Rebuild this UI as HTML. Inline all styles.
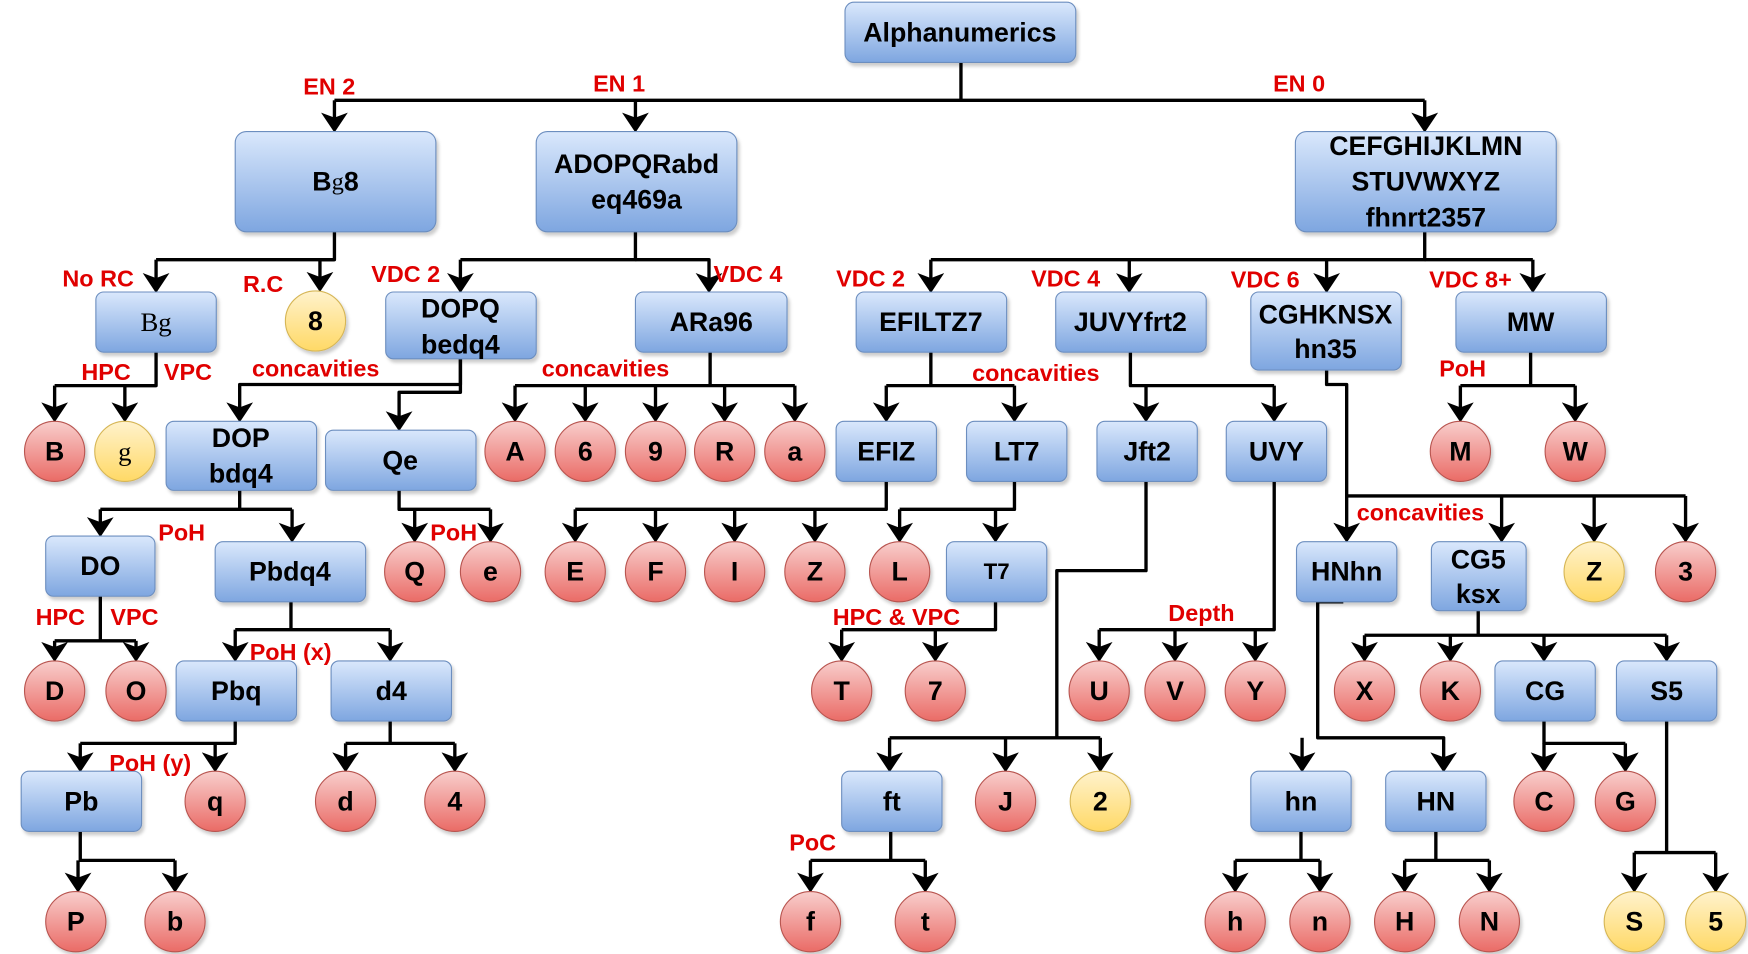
<!DOCTYPE html>
<html><head><meta charset="utf-8"><style>
html,body{margin:0;padding:0;background:#fff;}
svg{display:block;}
text{font-family:"Liberation Sans",Arial,sans-serif;font-weight:bold;}
.bt{font-size:24px;fill:#000;text-anchor:middle;dominant-baseline:central;}
.ct{font-size:24px;fill:#000;text-anchor:middle;dominant-baseline:central;}
.rl{font-size:21px;fill:#e00000;}
.e{fill:none;stroke:#000;stroke-width:3;stroke-linejoin:round;}
.a{fill:none;stroke:#000;stroke-width:3;stroke-linejoin:round;marker-end:url(#ar);}
</style></head><body>
<svg width="1748" height="954" viewBox="0 0 1568 856" preserveAspectRatio="none" xmlns="http://www.w3.org/2000/svg">
<defs>
<linearGradient id="gb" x1="0" y1="0" x2="0" y2="1"><stop offset="0" stop-color="#dae8fc"/><stop offset="1" stop-color="#7ea6e0"/></linearGradient>
<linearGradient id="gr" x1="0" y1="0" x2="0" y2="1"><stop offset="0" stop-color="#f8cecc"/><stop offset="1" stop-color="#ea6b66"/></linearGradient>
<linearGradient id="gy" x1="0" y1="0" x2="0" y2="1"><stop offset="0" stop-color="#fff2cc"/><stop offset="1" stop-color="#ffd966"/></linearGradient>
<marker id="ar" markerWidth="8" markerHeight="8" refX="5" refY="4" orient="auto" markerUnits="strokeWidth" viewBox="0 0 8 8">
<path d="M0,0 L6,4 L0,8 L1.5,4 Z" fill="#000"/></marker>
<filter id="sh" x="-10%" y="-10%" width="130%" height="130%"><feDropShadow dx="2" dy="3" stdDeviation="1.5" flood-color="#000" flood-opacity="0.2"/></filter>
</defs>

<!-- edges -->
<path class="e" d="M862 56 V90 H300"/><path class="e" d="M862 90 H1278"/>
<path class="a" d="M300 90 V116"/><path class="a" d="M570 90 V116"/><path class="a" d="M1278 90 V116"/>
<path class="e" d="M300 208 V233 H140"/><path class="a" d="M140 233 V260"/><path class="a" d="M300 233 H287 V259"/>
<path class="e" d="M570 208 V233 H413"/><path class="a" d="M413 233 V260"/><path class="a" d="M570 233 H636 V260"/>
<path class="e" d="M1278 208 V233 H835"/><path class="e" d="M1278 233 H1375"/>
<path class="a" d="M835 233 V260"/><path class="a" d="M1013 233 V260"/><path class="a" d="M1190 233 V260"/><path class="a" d="M1375 233 V260"/>
<path class="e" d="M140 316 V346 H49"/><path class="a" d="M49 346 V376"/><path class="a" d="M140 346 H112 V376"/>
<path class="a" d="M413 322 V345 H215 V376"/><path class="a" d="M413 322 V352 H358 V384"/>
<path class="e" d="M637 316 V346 H462 M637 346 H713"/>
<path class="a" d="M462 346 V376"/><path class="a" d="M525 346 V376"/><path class="a" d="M588 346 V376"/><path class="a" d="M650 346 V376"/><path class="a" d="M713 346 V376"/>
<path class="e" d="M835 316 V346 H795 M835 346 H910"/><path class="a" d="M795 346 V376"/><path class="a" d="M910 346 V376"/>
<path class="e" d="M1014 316 V346 H1143"/><path class="a" d="M1028 346 V376"/><path class="a" d="M1143 346 V376"/>
<path class="a" d="M1190 332 V345 H1208 V484"/><path class="e" d="M1208 445 H1512"/>
<path class="a" d="M1347 445 V484"/><path class="a" d="M1430 445 V484"/><path class="a" d="M1512 445 V484"/>
<path class="e" d="M1373 316 V346 H1310 M1373 346 H1413"/><path class="a" d="M1310 346 V376"/><path class="a" d="M1413 346 V376"/>
<path class="e" d="M215 440 V457 H90 M215 457 H262"/><path class="a" d="M90 457 V479"/><path class="a" d="M262 457 V484"/>
<path class="e" d="M358 440 V457 H440"/><path class="a" d="M372 457 V484"/><path class="a" d="M440 457 V484"/>
<path class="e" d="M795 432 V457 H516"/><path class="a" d="M516 457 V484"/><path class="a" d="M588 457 V484"/><path class="a" d="M659 457 V484"/><path class="a" d="M731 457 V484"/>
<path class="e" d="M910 432 V457 H807 M893 457 V457"/><path class="a" d="M807 457 V484"/><path class="a" d="M893 457 V484"/>
<path class="e" d="M1028 432 V512 H948 V662 H798 M948 662 H987"/>
<path class="a" d="M798 662 V690"/><path class="a" d="M902 662 V690"/><path class="a" d="M987 662 V690"/>
<path class="e" d="M1143 432 V565 H986"/><path class="a" d="M986 565 V591"/><path class="a" d="M1054 565 V591"/><path class="a" d="M1126 565 V591"/>
<path class="e" d="M90 535 V575 H49 M90 575 H122"/><path class="a" d="M49 575 V591"/><path class="a" d="M122 575 V591"/>
<path class="e" d="M261 540 V565 H211 M261 565 H350"/><path class="a" d="M211 565 V591"/><path class="a" d="M350 565 V591"/>
<path class="e" d="M893 540 V565 H755"/><path class="a" d="M755 565 V591"/><path class="a" d="M839 565 V591"/>
<path class="a" d="M1205 540 H1182 V662 H1295 V690"/><path class="a" d="M1168 662 V690"/>
<path class="e" d="M1326 548 V570 H1224 M1326 570 H1495"/><path class="a" d="M1224 570 V591"/><path class="a" d="M1301 570 V591"/><path class="a" d="M1385 570 V591"/><path class="a" d="M1495 570 V591"/>
<path class="e" d="M211 647 V667 H72 M211 667 H193"/><path class="a" d="M72 667 V690"/><path class="a" d="M193 667 V690"/>
<path class="e" d="M350 647 V667 H310 M350 667 H408"/><path class="a" d="M310 667 V690"/><path class="a" d="M408 667 V690"/>
<path class="e" d="M1385 647 V667 H1458"/><path class="a" d="M1385 667 V690"/><path class="a" d="M1458 667 V690"/>
<path class="e" d="M1495 647 V765 H1466 M1495 765 H1539"/><path class="a" d="M1466 765 V798"/><path class="a" d="M1539 765 V798"/>
<path class="e" d="M72 746 V772 H157"/><path class="a" d="M70 772 V798"/><path class="a" d="M157 772 V798"/>
<path class="e" d="M799 746 V772 H727 M799 772 H830"/><path class="a" d="M727 772 V798"/><path class="a" d="M830 772 V798"/>
<path class="e" d="M1167 746 V772 H1108 M1167 772 H1184"/><path class="a" d="M1108 772 V798"/><path class="a" d="M1184 772 V798"/>
<path class="e" d="M1288 746 V772 H1260 M1288 772 H1336"/><path class="a" d="M1260 772 V798"/><path class="a" d="M1336 772 V798"/>

<!-- boxes -->
<g fill="url(#gb)" stroke="#6c8ebf" stroke-width="1" filter="url(#sh)">
<rect x="758" y="2" width="207" height="54" rx="8"/>
<rect x="211" y="118" width="180" height="90" rx="10"/>
<rect x="481" y="118" width="180" height="90" rx="10"/>
<rect x="1162" y="118" width="234" height="90" rx="10"/>
<rect x="86" y="262" width="108" height="54" rx="7"/>
<rect x="346" y="262" width="135" height="60" rx="7"/>
<rect x="570" y="262" width="136" height="54" rx="7"/>
<rect x="768" y="262" width="135" height="54" rx="7"/>
<rect x="947" y="262" width="135" height="54" rx="7"/>
<rect x="1122" y="262" width="135" height="70" rx="7"/>
<rect x="1306" y="262" width="135" height="54" rx="7"/>
<rect x="149" y="378" width="135" height="62" rx="7"/>
<rect x="292" y="386" width="135" height="54" rx="7"/>
<rect x="750" y="378" width="90" height="54" rx="7"/>
<rect x="867" y="378" width="90" height="54" rx="7"/>
<rect x="984" y="378" width="90" height="54" rx="7"/>
<rect x="1100" y="378" width="90" height="54" rx="7"/>
<rect x="41" y="481" width="98" height="54" rx="7"/>
<rect x="193" y="486" width="135" height="54" rx="7"/>
<rect x="849" y="486" width="90" height="54" rx="7"/>
<rect x="1163" y="486" width="90" height="54" rx="7"/>
<rect x="1284" y="486" width="85" height="62" rx="7"/>
<rect x="158" y="593" width="108" height="54" rx="7"/>
<rect x="297" y="593" width="108" height="54" rx="7"/>
<rect x="1341" y="593" width="90" height="54" rx="7"/>
<rect x="1450" y="593" width="90" height="54" rx="7"/>
<rect x="19" y="692" width="108" height="54" rx="7"/>
<rect x="755" y="692" width="90" height="54" rx="7"/>
<rect x="1122" y="692" width="90" height="54" rx="7"/>
<rect x="1243" y="692" width="90" height="54" rx="7"/>
</g>
<g class="bt">
<text class="bt" x="861" y="29">Alphanumerics</text>
<text class="bt" x="301" y="163">B<tspan style="font-family:'Liberation Serif',serif;font-weight:normal;font-size:22px">g</tspan>8</text>
<text class="bt" x="571" y="147">ADOPQRabd</text><text class="bt" x="571" y="179">eq469a</text>
<text class="bt" x="1279" y="131">CEFGHIJKLMN</text><text class="bt" x="1279" y="163">STUVWXYZ</text><text class="bt" x="1279" y="195">fhnrt2357</text>
<text class="bt" x="140" y="289" style="font-family:'Liberation Serif',serif;font-weight:normal">Bg</text>
<text class="bt" x="413" y="277">DOPQ</text><text class="bt" x="413" y="309">bedq4</text>
<text class="bt" x="638" y="289">ARa96</text>
<text class="bt" x="835" y="289">EFILTZ7</text>
<text class="bt" x="1014" y="289">JUVYfrt2</text>
<text class="bt" x="1189" y="282">CGHKNSX</text><text class="bt" x="1189" y="313">hn35</text>
<text class="bt" x="1373" y="289">MW</text>
<text class="bt" x="216" y="393">DOP</text><text class="bt" x="216" y="425">bdq4</text>
<text class="bt" x="359" y="413">Qe</text>
<text class="bt" x="795" y="405">EFIZ</text>
<text class="bt" x="912" y="405">LT7</text>
<text class="bt" x="1029" y="405">Jft2</text>
<text class="bt" x="1145" y="405">UVY</text>
<text class="bt" x="90" y="508">DO</text>
<text class="bt" x="260" y="513">Pbdq4</text>
<text class="bt" x="894" y="513" style="font-size:20px">T7</text>
<text class="bt" x="1208" y="513">HNhn</text>
<text class="bt" x="1326" y="502">CG5</text><text class="bt" x="1326" y="533">ksx</text>
<text class="bt" x="212" y="620">Pbq</text>
<text class="bt" x="351" y="620">d4</text>
<text class="bt" x="1386" y="620">CG</text>
<text class="bt" x="1495" y="620">S5</text>
<text class="bt" x="73" y="719">Pb</text>
<text class="bt" x="800" y="719">ft</text>
<text class="bt" x="1167" y="719">hn</text>
<text class="bt" x="1288" y="719">HN</text>
</g>

<!-- circles -->
<g stroke="#b85450" stroke-width="1" fill="url(#gr)" filter="url(#sh)">
<circle cx="49" cy="405" r="27"/><circle cx="462" cy="405" r="27"/><circle cx="525" cy="405" r="27"/><circle cx="588" cy="405" r="27"/><circle cx="650" cy="405" r="27"/><circle cx="713" cy="405" r="27"/><circle cx="1310" cy="405" r="27"/><circle cx="1413" cy="405" r="27"/>
<circle cx="372" cy="513" r="27"/><circle cx="440" cy="513" r="27"/><circle cx="516" cy="513" r="27"/><circle cx="588" cy="513" r="27"/><circle cx="659" cy="513" r="27"/><circle cx="731" cy="513" r="27"/><circle cx="807" cy="513" r="27"/><circle cx="1512" cy="513" r="27"/>
<circle cx="49" cy="620" r="27"/><circle cx="122" cy="620" r="27"/><circle cx="755" cy="620" r="27"/><circle cx="839" cy="620" r="27"/><circle cx="986" cy="620" r="27"/><circle cx="1054" cy="620" r="27"/><circle cx="1126" cy="620" r="27"/><circle cx="1224" cy="620" r="27"/><circle cx="1301" cy="620" r="27"/>
<circle cx="193" cy="719" r="27"/><circle cx="310" cy="719" r="27"/><circle cx="408" cy="719" r="27"/><circle cx="902" cy="719" r="27"/><circle cx="1385" cy="719" r="27"/><circle cx="1458" cy="719" r="27"/>
<circle cx="68" cy="827" r="27"/><circle cx="157" cy="827" r="27"/><circle cx="727" cy="827" r="27"/><circle cx="830" cy="827" r="27"/><circle cx="1108" cy="827" r="27"/><circle cx="1184" cy="827" r="27"/><circle cx="1260" cy="827" r="27"/><circle cx="1336" cy="827" r="27"/>
</g>
<g stroke="#d6b656" stroke-width="1" fill="url(#gy)" filter="url(#sh)">
<circle cx="283" cy="288" r="27"/><circle cx="112" cy="405" r="27"/><circle cx="1430" cy="513" r="27"/><circle cx="987" cy="719" r="27"/><circle cx="1466" cy="827" r="27"/><circle cx="1539" cy="827" r="27"/>
</g>
<g>
<text class="ct" x="283" y="288">8</text>
<text class="ct" x="49" y="405">B</text><text class="ct" x="112" y="405" style="font-family:'Liberation Serif',serif;font-weight:normal">g</text><text class="ct" x="462" y="405">A</text><text class="ct" x="525" y="405">6</text><text class="ct" x="588" y="405">9</text><text class="ct" x="650" y="405">R</text><text class="ct" x="713" y="405">a</text><text class="ct" x="1310" y="405">M</text><text class="ct" x="1413" y="405">W</text>
<text class="ct" x="372" y="513">Q</text><text class="ct" x="440" y="513">e</text><text class="ct" x="516" y="513">E</text><text class="ct" x="588" y="513">F</text><text class="ct" x="659" y="513">I</text><text class="ct" x="731" y="513">Z</text><text class="ct" x="807" y="513">L</text><text class="ct" x="1430" y="513">Z</text><text class="ct" x="1512" y="513">3</text>
<text class="ct" x="49" y="620">D</text><text class="ct" x="122" y="620">O</text><text class="ct" x="755" y="620">T</text><text class="ct" x="839" y="620">7</text><text class="ct" x="986" y="620">U</text><text class="ct" x="1054" y="620">V</text><text class="ct" x="1126" y="620">Y</text><text class="ct" x="1224" y="620">X</text><text class="ct" x="1301" y="620">K</text>
<text class="ct" x="193" y="719">q</text><text class="ct" x="310" y="719">d</text><text class="ct" x="408" y="719">4</text><text class="ct" x="902" y="719">J</text><text class="ct" x="987" y="719">2</text><text class="ct" x="1385" y="719">C</text><text class="ct" x="1458" y="719">G</text>
<text class="ct" x="68" y="827">P</text><text class="ct" x="157" y="827">b</text><text class="ct" x="727" y="827">f</text><text class="ct" x="830" y="827">t</text><text class="ct" x="1108" y="827">h</text><text class="ct" x="1184" y="827">n</text><text class="ct" x="1260" y="827">H</text><text class="ct" x="1336" y="827">N</text><text class="ct" x="1466" y="827">S</text><text class="ct" x="1539" y="827">5</text>
</g>

<!-- red labels -->
<g class="rl">
<text class="rl" x="272" y="85">EN 2</text>
<text class="rl" x="532" y="82">EN 1</text>
<text class="rl" x="1142" y="82">EN 0</text>
<text class="rl" x="56" y="257">No RC</text>
<text class="rl" x="218" y="262">R.C</text>
<text class="rl" x="333" y="253">VDC 2</text>
<text class="rl" x="640" y="253">VDC 4</text>
<text class="rl" x="750" y="257">VDC 2</text>
<text class="rl" x="925" y="257">VDC 4</text>
<text class="rl" x="1104" y="258">VDC 6</text>
<text class="rl" x="1282" y="258">VDC 8+</text>
<text class="rl" x="73" y="341">HPC</text>
<text class="rl" x="147" y="341">VPC</text>
<text class="rl" x="226" y="338">concavities</text>
<text class="rl" x="486" y="338">concavities</text>
<text class="rl" x="872" y="342">concavities</text>
<text class="rl" x="1291" y="338">PoH</text>
<text class="rl" x="142" y="485">PoH</text>
<text class="rl" x="386" y="485">PoH</text>
<text class="rl" x="1217" y="467">concavities</text>
<text class="rl" x="32" y="561">HPC</text>
<text class="rl" x="99" y="561">VPC</text>
<text class="rl" x="747" y="561">HPC &amp; VPC</text>
<text class="rl" x="1048" y="557">Depth</text>
<text class="rl" x="224" y="592">PoH (x)</text>
<text class="rl" x="98" y="692">PoH (y)</text>
<text class="rl" x="708" y="763">PoC</text>
</g>
</svg>
</body></html>
